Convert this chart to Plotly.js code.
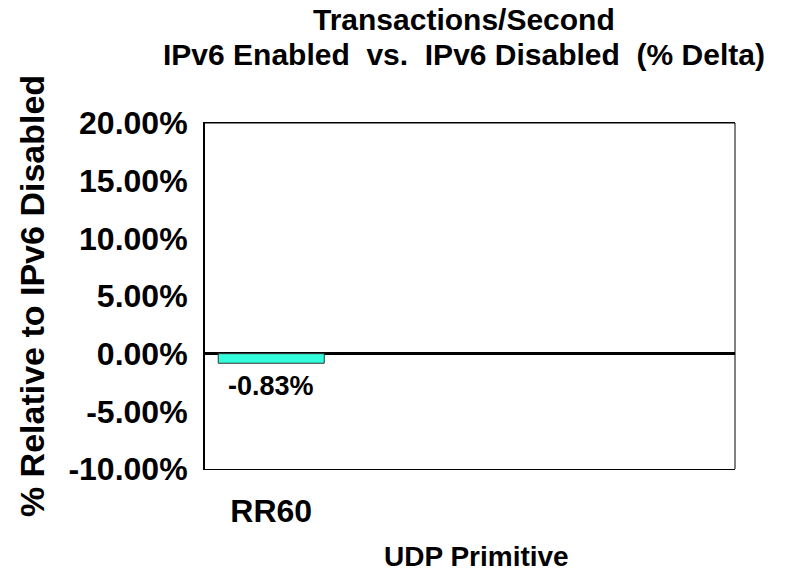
<!DOCTYPE html>
<html><head><meta charset="utf-8">
<script src="https://cdn.plot.ly/plotly-3.0.1.min.js"></script>
<style>body{margin:0;background:#fff}#c{width:786px;height:574px}</style>
</head><body><div id="c"></div>
<script>
const categories = ["RR60"];
const deltaPct = [-0.83];
const labels = ["-0.83%"];
const titleLines = ["Transactions/Second", "IPv6 Enabled  vs.  IPv6 Disabled  (% Delta)"];
const xTitle = "UDP Primitive";
const yTitle = "% Relative to IPv6 Disabled";
const yTickVals = [-10, -5, 0, 5, 10, 15, 20];
const yTickText = ["-10.00%", "-5.00%", "0.00%", "5.00%", "10.00%", "15.00%", "20.00%"];

const F = "Liberation Sans, Arial, sans-serif";
const valueLabels = categories.map((c, i) => ({
  text: "<b>" + labels[i] + "</b>", x: c, y: deltaPct[i], xref: "x", yref: "y",
  xanchor: "center", yanchor: "top", yshift: -6, showarrow: false,
  font: {family: F, size: 27, color: "#000"}
}));
Plotly.newPlot("c", [{
  type: "bar",
  x: categories,
  y: deltaPct,
  width: 0.8,
  marker: {color: "#33FFDD", line: {color: "#333", width: 1}},
  hoverinfo: "none"
}], {
  width: 786, height: 574,
  margin: {l: 205, r: 51, t: 123, b: 105},
  paper_bgcolor: "#fff", plot_bgcolor: "#fff",
  showlegend: false,
  annotations: [
    {text: "<b>" + titleLines[0] + "</b>", xref: "paper", yref: "paper", x: 0.489, y: 1.300,
     xanchor: "center", yanchor: "middle", showarrow: false, borderpad: 0, font: {family: F, size: 30, color: "#000"}},
    {text: "<b>" + titleLines[1] + "</b>", xref: "paper", yref: "paper", x: 0.489, y: 1.197,
     xanchor: "center", yanchor: "middle", showarrow: false, borderpad: 0, font: {family: F, size: 30, color: "#000"}},
    {text: "<b>" + xTitle + "</b>", xref: "paper", yref: "paper", x: 0.513, y: -0.254,
     xanchor: "center", yanchor: "middle", showarrow: false, font: {family: F, size: 28, color: "#000"}}
  ].concat(valueLabels),
  xaxis: {
    type: "category",
    range: [-0.5, 3.5],
    showgrid: false, zeroline: false,
    showline: true, linecolor: "#000", linewidth: 1, mirror: true,
    ticks: "", ticklen: 0, ticklabelstandoff: 14,
    tickfont: {family: F, size: 32, color: "#000", weight: "bold"}
  },
  yaxis: {
    range: [-10, 20],
    tickvals: yTickVals,
    ticktext: yTickText,
    showgrid: false,
    zeroline: true, zerolinecolor: "#000", zerolinewidth: 2.5,
    showline: true, linecolor: "#000", linewidth: 2, mirror: false,
    ticks: "", ticklen: 0, ticklabelstandoff: 9,
    tickfont: {family: F, size: 32, color: "#000", weight: "bold"},
    title: {text: "<b>" + yTitle + "</b>", font: {family: F, size: 34, color: "#000"}, standoff: 14}
  },
  shapes: [{type: "line", xref: "paper", yref: "paper", x0: 1, x1: 1, y0: 0, y1: 1, line: {color: "#000", width: 1}},
           {type: "line", xref: "paper", yref: "paper", x0: 0, x1: 1, y0: 1, y1: 1, line: {color: "#000", width: 1}}]
}, {displayModeBar: false, staticPlot: true});
</script></body></html>
